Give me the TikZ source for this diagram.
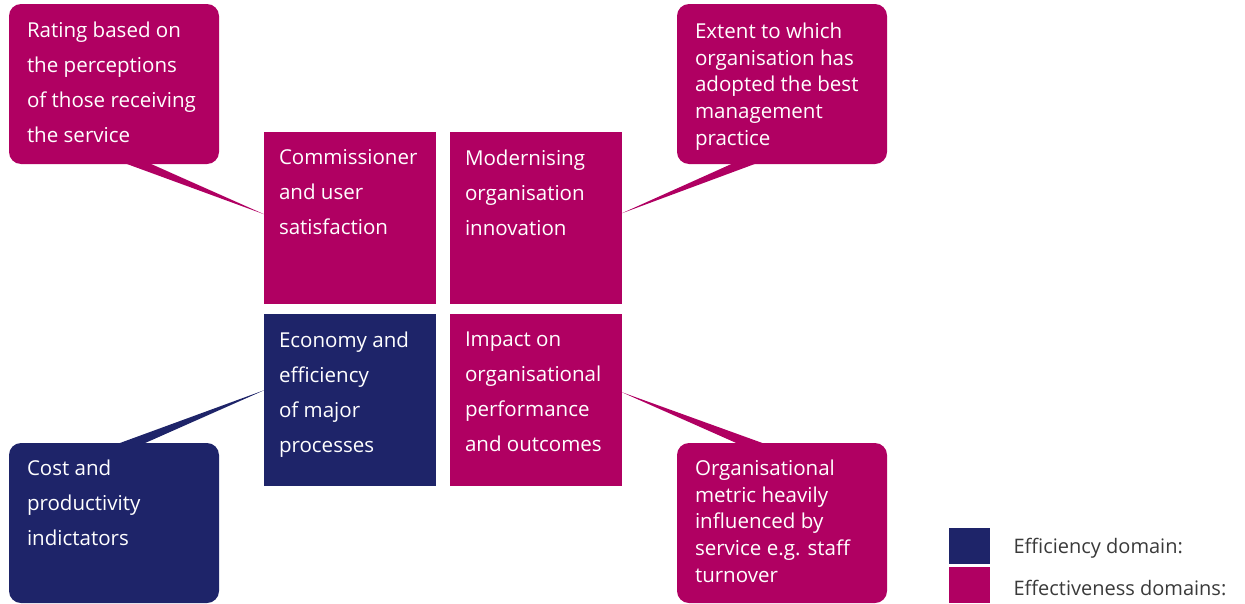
\documentclass[tikz,border=0pt]{standalone}
\usepackage{fontspec}
\setmainfont{Open Sans}
\usetikzlibrary{calc}

\definecolor{effmag}{RGB}{176,0,98}
\definecolor{eficnavy}{RGB}{30,36,105}
\definecolor{keygray}{RGB}{58,58,58}

\tikzset{
  domainbox/.style={rectangle, minimum width=129pt, minimum height=129pt, inner sep=0pt},
  callout/.style={rectangle, rounded corners=9pt, minimum width=157.5pt, minimum height=120pt, inner sep=0pt},
  intext/.style={text=white, align=left, inner sep=0pt, anchor=north west, font=\fontsize{15.4}{26.3}\selectfont},
  tighttext/.style={intext, font=\fontsize{15.4}{20}\selectfont},
  keybox/.style={rectangle, minimum width=30.75pt, minimum height=27pt, inner sep=0pt},
  keytext/.style={text=keygray, inner sep=0pt, font=\fontsize{15}{20}\selectfont}
}

\begin{document}
\begin{tikzpicture}[x=0.75pt, y=-0.75pt]
    \useasboundingbox (0,0) rectangle (1245,603);

    % Four domain squares
    \node[domainbox, fill=effmag] (sqCom) at (350,217.5) {};
    \node[domainbox, fill=effmag] (sqMod) at (536,217.5) {};
    \node[domainbox, fill=eficnavy] (sqEco) at (350,400) {};
    \node[domainbox, fill=effmag] (sqImp) at (536,400) {};

    % Text inside the squares, top left
    \node[intext] (tCom) at ($(sqCom.north west)+(15,18)$) {Commissioner\\and user\\satisfaction};
    \node[intext] (tMod) at ($(sqMod.north west)+(15,18)$) {Modernising\\organisation\\innovation};
    \node[intext] (tEco) at ($(sqEco.north west)+(15,18)$) {Economy and\\efficiency\\of major\\processes};
    \node[intext] (tImp) at ($(sqImp.north west)+(15,18)$) {Impact on\\organisational\\performance\\and outcomes};

    % Callouts
    \node[callout, fill=effmag] (cRat) at (114,84) {};
    \node[callout, fill=effmag] (cExt) at (782,84) {};
    \node[callout, fill=eficnavy] (cCost) at (114,523) {};
    \node[callout, fill=effmag] (cOrg) at (782,523) {};

    \node[intext] (tRat) at ($(cRat.north west)+(18,18)$) {Rating based on\\the perceptions\\of those receiving\\the service};
    \node[tighttext] (tExt) at ($(cExt.north west)+(18,19)$) {Extent to which\\organisation has\\adopted the best\\management\\practice};
    \node[intext] (tCost) at ($(cCost.north west)+(18,17)$) {Cost and\\productivity\\indictators};
    \node[tighttext] (tOrg) at ($(cOrg.north west)+(18,17)$) {Organisational\\metric heavily\\influenced by\\service e.g. staff\\turnover};

    % Callout tails pointing at the squares
    \coordinate (tipCom) at ($(sqCom.west)+(1,-3)$);
    \coordinate (tipMod) at ($(sqMod.east)+(-1,-4)$);
    \coordinate (tipEco) at ($(sqEco.west)+(1,-10)$);
    \coordinate (tipImp) at ($(sqImp.east)+(-1,-8)$);

    \fill[effmag] ($(cRat.south west)+(108,-4)$) -- ($(cRat.south west)+(134,-4)$) -- (tipCom) -- cycle;
    \fill[effmag] ($(cExt.south west)+(63,-4)$) -- ($(cExt.south west)+(88,-4)$) -- (tipMod) -- cycle;
    \fill[eficnavy] ($(cCost.north west)+(101,4)$) -- ($(cCost.north west)+(128,4)$) -- (tipEco) -- cycle;
    \fill[effmag] ($(cOrg.north west)+(68,4)$) -- ($(cOrg.north west)+(96,4)$) -- (tipImp) -- cycle;

    % Legend
    \node[keybox, fill=eficnavy] (keyEff) at (969.5,546) {};
    \node[keybox, fill=effmag] (keyEct) at (969.5,585) {};
    \node[keytext, anchor=base west] (lEff) at ($(keyEff.east)+(23,7)$) {Efficiency domain:};
    \node[keytext, anchor=base west] (lEct) at ($(keyEct.east)+(23,10)$) {Effectiveness domains:};

\end{tikzpicture}
\end{document}
